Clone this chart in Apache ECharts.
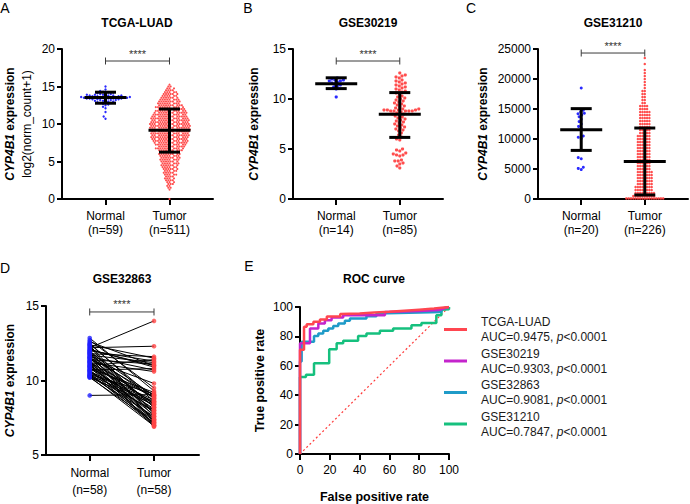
<!DOCTYPE html>
<html><head><meta charset="utf-8">
<script src="https://cdn.jsdelivr.net/npm/echarts@6/dist/echarts.min.js"></script>
<style>html,body{margin:0;padding:0;background:#fff}#c{width:690px;height:504px}</style>
</head><body><div id="c"></div>
<script>
// ================= DATA =================
const panelLetters = ['A', 'B', 'C', 'D', 'E'];
const panelTitles = ['TCGA-LUAD', 'GSE30219', 'GSE31210', 'GSE32863', 'ROC curve'];
const groups = ['Normal', 'Tumor'];
const tcgaN = ['(n=59)', '(n=511)'];
const gse30219N = ['(n=14)', '(n=85)'];
const gse31210N = ['(n=20)', '(n=226)'];
const gse32863N = ['(n=58)', '(n=58)'];

// TCGA-LUAD
const tcgaNormal = [15.0,14.6,14.4,14.3,14.2,14.2,14.1,14.1,14.0,14.0,13.9,13.9,13.9,13.8,13.8,13.8,13.8,13.7,13.7,13.7,
  13.7,13.6,13.6,13.6,13.6,13.6,13.5,13.5,13.5,13.5,13.5,13.4,13.4,13.4,13.4,13.4,13.3,13.3,13.3,13.3,
  13.2,13.2,13.2,13.1,13.1,13.0,13.0,12.9,12.9,12.8,12.8,12.7,12.6,12.5,12.3,12.1,11.6,11.0,10.7];
const tcgaTumorLevels = [0,1.25,1.5,1.75,2,2.25,2.5,2.75,3,3.25,3.5,3.75,4,4.25,4.5,4.75,5,5.25,5.5,5.75,6,6.25,6.5,6.75,7,7.25,7.5,7.75,8,8.25,8.5,8.75,9,9.25,9.5,9.75,10,10.25,10.5,10.75,11,11.25,11.5,11.75,12,12.25,12.5,12.75,13,13.25,13.5,13.75,14,14.25,14.5,14.75,15,15.25];
const tcgaTumorCounts = [1,1,2,2,3,3,4,4,4,5,5,5,6,6,7,7,7,8,8,8,9,8,10,11,11,12,13,14,14,15,15,15,15,16,16,16,16,15,15,15,14,13,13,12,11,11,10,9,9,8,7,6,6,5,4,3,2,1];
const tcgaMean = [13.52, 9.16];
const tcgaLow = [12.77, 6.25];
const tcgaHigh = [14.24, 12.0];
const tcgaBracket = 18.4;

// GSE30219
const gse30219Normal = [12.1,12.0,11.9,11.9,11.8,11.8,11.7,11.6,11.5,11.4,11.3,11.2,11.0,10.2];
const gse30219Tumor = [12.6,12.4,12.3,12.2,12.1,11.9,11.8,11.7,11.6,11.5,11.4,11.3,11.2,11.1,11.0,
  10.9,10.8,10.7,10.6,10.5,10.3,10.2,10.1,10.0,9.9,9.8,9.7,9.6,9.5,9.4,9.3,9.2,9.1,
  9.0,9.0,8.9,8.9,8.9,8.9,8.8,8.8,8.8,8.8,8.8,8.7,
  8.6,8.5,8.5,8.4,8.3,8.2,8.1,8.0,7.9,7.8,7.7,7.6,7.5,7.4,7.3,7.2,7.1,7.0,6.9,6.8,6.6,6.4,6.2,6.0,5.9,
  5.0,4.9,4.8,4.6,4.5,4.4,4.4,4.3,3.9,3.8,3.8,3.6,3.5,3.3,3.1];
const gse30219Mean = [11.52, 8.47];
const gse30219Low = [11.04, 6.16];
const gse30219High = [12.12, 10.64];
const gse30219Bracket = 13.8;

// GSE31210
const gse31210Normal = [18500,14800,14500,14300,14200,14000,13700,13300,12900,12500,12100,11800,10500,10300,10100,6900,6700,5300,5100,4900];
const gse31210TumorLevels = [100,500,1000,1500,2000,2500,3000,3500,4000,4500,5000,5500,6000,6500,7000,7500,8000,8500,9000,9500,10000,10500,11000,11500,12000,12500,13000,13500,14000,14500,15000,15500,16000,16500,17000,17500,18000,18500,19000,19500,20000,20500,21000,21500,22500,23500];
const gse31210TumorCounts = [17,10,9,8,8,7,7,7,7,7,6,6,6,6,6,6,6,6,6,6,6,6,5,5,5,5,5,5,5,5,4,4,2,2,2,2,2,1,1,1,1,1,1,1,1,1];
const gse31210Mean = [11546, 6258];
const gse31210Low = [8100, 670];
const gse31210High = [15060, 11830];
const gse31210Bracket = 24330;

// GSE32863 (paired)
const gse32863Normal = [12.85,12.6,12.5,12.4,12.3,12.2,12.2,12.1,12.0,12.0,11.9,11.9,11.8,11.8,11.7,11.7,11.6,11.6,11.5,11.5,11.4,11.4,11.3,11.3,11.2,11.2,11.1,11.1,11.0,11.0,10.9,10.9,10.8,10.8,10.7,10.7,10.6,10.6,10.5,10.5,10.4,10.4,10.3,10.3,10.2,10.2,12.7,12.45,12.35,12.05,11.85,11.55,11.25,10.95,10.65,10.35,10.25,9.0];
const gse32863Tumor = [9.3,11.0,8.6,11.5,7.2,14.0,12.3,10.9,8.2,11.3,7.6,9.0,11.6,7.0,8.8,11.2,7.8,10.7,8.4,7.4,9.8,11.1,8.0,6.9,8.9,10.6,7.3,8.5,7.7,11.4,8.1,7.1,9.2,8.3,7.5,10.8,8.7,7.9,7.0,8.6,9.1,7.3,8.0,7.6,8.4,7.2,9.5,8.8,7.8,11.0,8.2,9.0,7.4,8.9,7.1,8.5,6.95,9.05];
const gse32863Bracket = 14.6;

// ROC curves (FPR %, TPR %)
const rocNames = ['TCGA-LUAD', 'GSE30219', 'GSE32863', 'GSE31210'];
const rocAUC = ['0.9475', '0.9303', '0.9081', '0.7847'];
const rocP = ['<0.0001', '<0.0001', '<0.0001', '<0.0001'];
const rocTCGA = [[0,0],[0,71],[2.7,71],[2.7,86.5],[4.5,86.5],[4.5,88.3],[9,88.3],[9,90],[13.4,90],[13.4,91.5],[18,91.5],[18,93.5],[27,93.5],[27,95.2],[40,95.6],[50,96.2],[60,96.8],[70,97.5],[80,98.2],[90,98.9],[100,100]];
const roc30219 = [[0,0],[0,75.3],[6.7,75.3],[6.7,85.4],[12.3,85.4],[12.3,88.8],[16.7,88.8],[16.7,91],[21.2,91],[21.2,92.8],[29,92.8],[29,94.4],[57,94.4],[57,96.6],[80,97.3],[93,98],[100,100]];
const roc32863 = [[0,0],[0,63],[1.1,63],[1.1,76.4],[9.4,76.4],[9.4,80.2],[12.3,80.2],[12.3,82],[15.6,82],[15.6,83.8],[19,83.8],[19,85.4],[22.3,85.4],[22.3,87],[25.7,87],[25.7,88.8],[30.1,88.8],[30.1,90.6],[33.5,90.6],[33.5,92.1],[44.6,92.1],[44.6,93.7],[51.3,93.7],[51.3,95.5],[94.9,96.6],[94.9,98.9],[100,100]];
const roc31210 = [[0,0],[0,52.4],[4,52.4],[4,53.9],[9.4,53.9],[9.4,61.8],[19.6,61.8],[19.6,71.2],[24.6,71.2],[24.6,75.3],[29,75.3],[29,77],[39,77],[39,80.2],[44.6,80.2],[44.6,82],[53.6,82],[53.6,83.8],[62.5,83.8],[62.5,85.4],[74.8,85.4],[74.8,87.6],[81.5,87.6],[81.5,89.2],[91.5,89.2],[91.5,94.4],[94.9,94.4],[94.9,98.2],[100,98.5],[100,100]];
const rocDiagonal = [[0,0],[100,100]];
const rocTicks = [0, 100, 20];

// ================= LAYOUT / STYLE =================
const FONT = '"Liberation Sans", Arial, Helvetica, sans-serif';
const RED = '#ff4545', BLUE = '#1f1fff';
const ROC_COLORS = ['#ff4650', '#c424cc', '#1f9bc8', '#16c07e'];
const grids = [
  {left: 62, top: 49, width: 151, height: 150},
  {left: 293, top: 49, width: 150, height: 150},
  {left: 538, top: 49, width: 150, height: 150},
  {left: 46, top: 306, width: 153, height: 149},
  {left: 300, top: 307, width: 149, height: 149}
];
const XR = [[0.32, 2.68], [0.32, 2.68], [0.32, 2.68], [0.32, 2.7], rocTicks];
const YR = [[0, 20, 5], [0, 15, 5], [0, 25000, 5000], [5, 15, 5], rocTicks];

function expand(levels, counts) {
  const out = [];
  levels.forEach((v, i) => { for (let k = 0; k < counts[i]; k++) out.push(v); });
  return out;
}
// deterministic beeswarm layout (pixel-space collision avoidance), x offset returned in axis units
function swarm(values, center, d, gi) {
  const g = grids[gi], yr = YR[gi], xr = XR[gi];
  const pxPerY = g.height / (yr[1] - yr[0]);
  const xPerPx = (xr[1] - xr[0]) / g.width;
  const pts = values.map(v => ({v, y: (v - yr[0]) * pxPerY, x: 0})).sort((a, b) => a.y - b.y);
  const placed = [];
  for (const p of pts) {
    const near = [];
    for (let j = placed.length - 1; j >= 0; j--) { const q = placed[j]; if (p.y - q.y >= d) break; near.push(q); }
    const cands = [0];
    for (const q of near) { const dy = p.y - q.y; const dx = Math.sqrt(Math.max(0, d * d - dy * dy)); cands.push(q.x + dx, q.x - dx); }
    cands.sort((a, b) => (Math.abs(a) - Math.abs(b)) || (a - b));
    for (const c of cands) {
      let ok = true;
      for (const q of near) { const dx = q.x - c, dy = q.y - p.y; if (dx * dx + dy * dy < d * d - 1e-6) { ok = false; break; } }
      if (ok) { p.x = c; break; }
    }
    placed.push(p);
  }
  return placed.map(p => [center + p.x * xPerPx, p.v]);
}

const axisLineStyle = {color: '#000', width: 2};
function yAxisOf(gi, name, nameGap, rich) {
  return {
    type: 'value', gridIndex: gi, min: YR[gi][0], max: YR[gi][1], interval: YR[gi][2],
    name, nameLocation: 'middle', nameGap, nameRotate: 90,
    nameTextStyle: {fontFamily: FONT, fontSize: 12, fontWeight: 'bold', color: '#000', rich},
    axisLine: {show: true, onZero: false, lineStyle: axisLineStyle},
    axisTick: {show: true, length: 5, lineStyle: {color: '#000', width: 2}},
    axisLabel: {color: '#000', fontFamily: FONT, fontSize: 12, margin: 7, formatter: v => String(v)},
    splitLine: {show: false}
  };
}
function xCatAxis(gi, nLabels, lineHeight) {
  return {
    type: 'value', gridIndex: gi, min: XR[gi][0], max: XR[gi][1],
    axisLine: {show: true, onZero: false, lineStyle: axisLineStyle},
    axisTick: {show: true, customValues: [1, 2], length: 6, lineStyle: {color: '#000', width: 2}},
    axisLabel: {customValues: [1, 2], color: '#000', fontFamily: FONT, fontSize: 12, margin: 10, lineHeight,
      formatter: v => groups[Math.round(v) - 1] + '\n' + nLabels[Math.round(v) - 1]},
    splitLine: {show: false}
  };
}
const richName = {
  i: {fontFamily: FONT, fontSize: 12, fontWeight: 'bold', fontStyle: 'italic', color: '#000', lineHeight: 17},
  b: {fontFamily: FONT, fontSize: 12, fontWeight: 'bold', color: '#000', lineHeight: 17},
  r: {fontFamily: FONT, fontSize: 12, fontWeight: 'normal', color: '#000', lineHeight: 17}
};

function errRender(params, api) {
  const x = api.value(0);
  const pm = api.coord([x, api.value(1)]), pl = api.coord([x, api.value(2)]), ph = api.coord([x, api.value(3)]);
  const st = {stroke: '#000', lineWidth: 3};
  return {type: 'group', children: [
    {type: 'line', shape: {x1: pl[0], y1: pl[1], x2: ph[0], y2: ph[1]}, style: st},
    {type: 'line', shape: {x1: pm[0] - 21, y1: pm[1], x2: pm[0] + 21, y2: pm[1]}, style: st},
    {type: 'line', shape: {x1: pl[0] - 10.5, y1: pl[1], x2: pl[0] + 10.5, y2: pl[1]}, style: st},
    {type: 'line', shape: {x1: ph[0] - 10.5, y1: ph[1], x2: ph[0] + 10.5, y2: ph[1]}, style: st}
  ]};
}
function bracketRender(params, api) {
  const p1 = api.coord([api.value(0), api.value(2)]), p2 = api.coord([api.value(1), api.value(2)]);
  const st = {stroke: '#3a3a3a', lineWidth: 1};
  return {type: 'group', children: [
    {type: 'line', shape: {x1: p1[0], y1: p1[1], x2: p2[0], y2: p2[1]}, style: st},
    {type: 'line', shape: {x1: p1[0], y1: p1[1] - 3.5, x2: p1[0], y2: p1[1] + 3.5}, style: st},
    {type: 'line', shape: {x1: p2[0], y1: p2[1] - 3.5, x2: p2[0], y2: p2[1] + 3.5}, style: st},
    {type: 'text', x: (p1[0] + p2[0]) / 2, y: p1[1] - 2,
      style: {text: '****', fill: '#333', font: '11px ' + FONT, textAlign: 'center', textVerticalAlign: 'bottom', align: 'center', verticalAlign: 'bottom'}}
  ]};
}
function statData(mean, low, high) { return [[1, mean[0], low[0], high[0]], [2, mean[1], low[1], high[1]]]; }

const series = [];
function dotPanel(gi, normal, tumor, dN, dT, sizeN, sizeT, mean, low, high, bracket) {
  series.push({type: 'scatter', xAxisIndex: gi, yAxisIndex: gi, data: swarm(normal, 1, dN, gi), symbolSize: sizeN, itemStyle: {color: BLUE, opacity: 0.95}, z: 2, silent: true});
  series.push({type: 'scatter', xAxisIndex: gi, yAxisIndex: gi, data: swarm(tumor, 2, dT, gi), symbolSize: sizeT, itemStyle: {color: RED, opacity: 0.95}, z: 2, silent: true});
  series.push({type: 'custom', xAxisIndex: gi, yAxisIndex: gi, renderItem: errRender, data: statData(mean, low, high), z: 5, silent: true});
  series.push({type: 'custom', xAxisIndex: gi, yAxisIndex: gi, renderItem: bracketRender, data: [[1, 2, bracket]], z: 6, silent: true});
}
dotPanel(0, tcgaNormal, expand(tcgaTumorLevels, tcgaTumorCounts), 2.9, 2.2, 2.4, 2.1, tcgaMean, tcgaLow, tcgaHigh, tcgaBracket);
dotPanel(1, gse30219Normal, gse30219Tumor, 3.2, 3.4, 3.2, 3.2, gse30219Mean, gse30219Low, gse30219High, gse30219Bracket);
dotPanel(2, gse31210Normal, expand(gse31210TumorLevels, gse31210TumorCounts), 3.2, 2.3, 3.0, 2.5, gse31210Mean, gse31210Low, gse31210High, gse31210Bracket);

// Panel D: paired
series.push({type: 'lines', coordinateSystem: 'cartesian2d', xAxisIndex: 3, yAxisIndex: 3, silent: true, z: 2,
  data: gse32863Normal.map((n, i) => ({coords: [[1, n], [2, gse32863Tumor[i]]]})),
  lineStyle: {color: '#000', width: 1, opacity: 1}});
series.push({type: 'scatter', xAxisIndex: 3, yAxisIndex: 3, data: gse32863Normal.map(v => [1, v]), symbolSize: 4.6, itemStyle: {color: BLUE}, z: 3, silent: true});
series.push({type: 'scatter', xAxisIndex: 3, yAxisIndex: 3, data: gse32863Tumor.map(v => [2, v]), symbolSize: 4.6, itemStyle: {color: RED}, z: 3, silent: true});
series.push({type: 'custom', xAxisIndex: 3, yAxisIndex: 3, renderItem: bracketRender, data: [[1, 2, gse32863Bracket]], z: 6, silent: true});

// Panel E: ROC
const rocData = [rocTCGA, roc30219, roc32863, roc31210];
[3, 2, 1, 0].forEach(i => {
  series.push({type: 'line', name: rocNames[i], xAxisIndex: 4, yAxisIndex: 4, data: rocData[i], symbol: 'none', color: ROC_COLORS[i],
    lineStyle: {color: ROC_COLORS[i], width: 2.5}, z: 3 + (3 - i), silent: true});
});
series.push({type: 'line', xAxisIndex: 4, yAxisIndex: 4, data: rocDiagonal, symbol: 'none', lineStyle: {color: '#ff3b3b', width: 1.2, type: [2, 2.5]}, z: 2, silent: true});

const xAxes = [xCatAxis(0, tcgaN, 14), xCatAxis(1, gse30219N, 14), xCatAxis(2, gse31210N, 14), xCatAxis(3, gse32863N, 16.5),
  {type: 'value', gridIndex: 4, min: rocTicks[0], max: rocTicks[1], interval: rocTicks[2], name: 'False positive rate', nameLocation: 'middle', nameGap: 36,
    nameTextStyle: {fontFamily: FONT, fontSize: 12.5, fontWeight: 'bold', color: '#000'},
    axisLine: {show: true, onZero: false, lineStyle: axisLineStyle},
    axisTick: {show: true, length: 6, lineStyle: {color: '#000', width: 2}},
    axisLabel: {color: '#000', fontFamily: FONT, fontSize: 12, margin: 10}, splitLine: {show: false}}];
const nameCYP = '{i|CYP4B1}{b| expression}';
const yAxes = [yAxisOf(0, nameCYP + '\n{r|log2(norm_count+1)}', 26.5, richName), yAxisOf(1, nameCYP, 31, richName),
  yAxisOf(2, nameCYP, 47, richName), yAxisOf(3, nameCYP, 28, richName),
  yAxisOf(4, 'True positive rate', 34, undefined)];
yAxes[4].nameTextStyle.fontSize = 12.5;

const titlePos = [[137, 23], [368, 23], [613, 23], [122, 279], [374, 279]];
const letterPos = [[5, 8], [248, 8], [471, 8], [5, 268], [249, 266]];
const graphics = [];
panelTitles.forEach((t, i) => graphics.push({type: 'text', x: titlePos[i][0], y: titlePos[i][1],
  style: {text: t, font: 'bold 12px ' + FONT, fill: '#000', textAlign: 'center', textVerticalAlign: 'middle', align: 'center', verticalAlign: 'middle'}}));
panelLetters.forEach((t, i) => graphics.push({type: 'text', x: letterPos[i][0], y: letterPos[i][1],
  style: {text: t, font: '14px ' + FONT, fill: '#000', textAlign: 'center', textVerticalAlign: 'middle', align: 'center', verticalAlign: 'middle'}}));

const chart = echarts.init(document.getElementById('c'), null, {renderer: 'svg'});
chart.setOption({
  animation: false,
  backgroundColor: '#fff',
  textStyle: {fontFamily: FONT},
  grid: grids.map(g => Object.assign({containLabel: false}, g)),
  xAxis: xAxes,
  yAxis: yAxes,
  legend: {
    orient: 'vertical', left: 444, top: 316, padding: 0, itemWidth: 23, itemHeight: 3, itemGap: 4.5, icon: 'rect',
    selectedMode: false, data: rocNames,
    formatter: name => { const i = rocNames.indexOf(name); return '{n|' + name + '}\n{a|AUC=' + rocAUC[i] + ', }{p|p}{a|' + rocP[i] + '}'; },
    textStyle: {fontFamily: FONT, fontSize: 12, color: '#1a1a1a', padding: [0, 0, 0, 9],
      rich: {n: {fontFamily: FONT, fontSize: 12, color: '#1a1a1a', lineHeight: 15},
             a: {fontFamily: FONT, fontSize: 12, color: '#1a1a1a', lineHeight: 15},
             p: {fontFamily: FONT, fontSize: 12, fontStyle: 'italic', color: '#1a1a1a', lineHeight: 15}}}
  },
  graphic: {elements: graphics},
  series
});
</script></body></html>
